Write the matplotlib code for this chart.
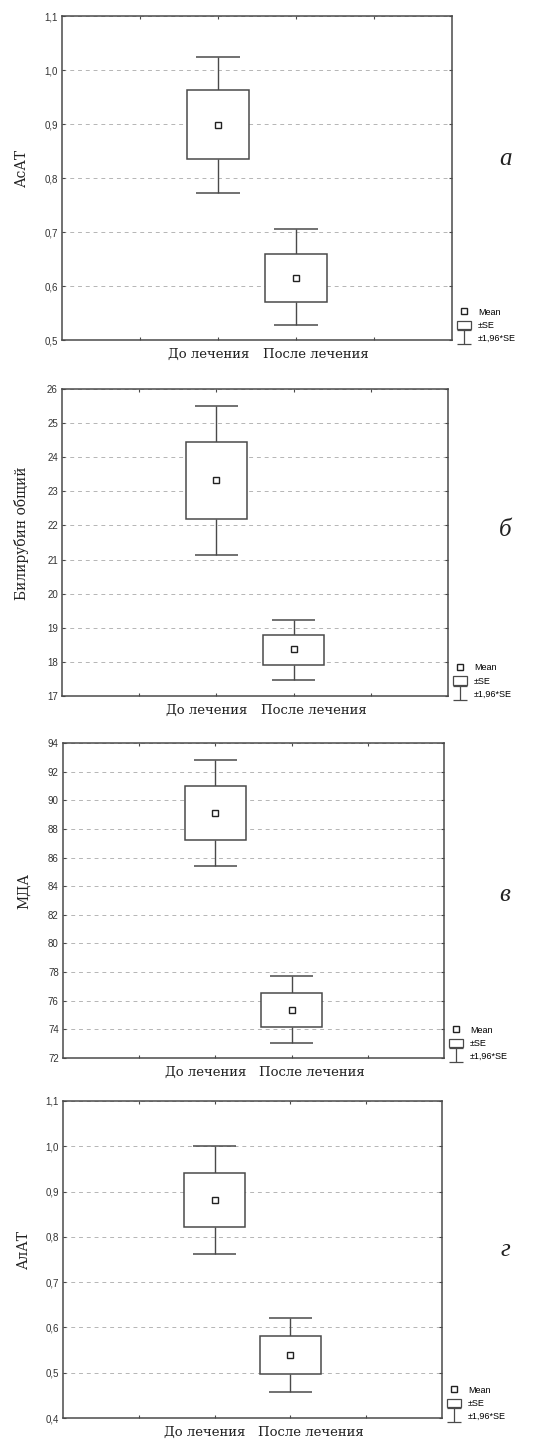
import numpy as np
import matplotlib.pyplot as plt
from matplotlib.path import Path
from matplotlib.lines import Line2D
from matplotlib.patches import Rectangle
from matplotlib.ticker import FuncFormatter

W, H = 554, 1449

groups = ["До лечения", "После лечения"]
group_pos = [2, 3]

# per panel: mean, SE box (low, high), 1.96*SE whiskers (low, high)
panel_names = ["АсАТ", "Билирубин общий", "МДА", "АлАТ"]
panel_letters = ["а", "б", "в", "г"]

means = [[0.899, 0.615], [23.34, 18.37], [89.13, 75.38], [0.881, 0.539]]
se_low = [[0.835, 0.570], [22.20, 17.92], [87.24, 74.19], [0.821, 0.498]]
se_high = [[0.963, 0.660], [24.46, 18.80], [91.02, 76.55], [0.942, 0.582]]
ci_low = [[0.773, 0.528], [21.13, 17.46], [85.42, 73.05], [0.763, 0.457]]
ci_high = [[1.025, 0.705], [25.51, 19.23], [92.82, 77.72], [1.000, 0.621]]

y_limits = [(0.5, 1.1), (17, 26), (72, 94), (0.4, 1.1)]
y_steps = [0.1, 1, 2, 0.1]
decimals = [1, 0, 0, 1]

# axes boxes in pixels: left, right, top, bottom
boxes = [(62, 452, 16, 340), (62, 448, 389, 696),
         (63, 444, 743, 1058), (63, 442, 1101, 1418)]
letter_y = [159, 530, 895, 1250]

line_col = "#4a4a4a"
serif = ["DejaVu Serif"]
sans = ["Liberation Sans"]

fig = plt.figure(figsize=(W / 100, H / 100), dpi=100)

whisker_path = Path(
    [(-0.5, 0.5), (0.5, 0.5), (0, 0.5), (0, -0.5), (-0.5, -0.5), (0.5, -0.5)],
    [Path.MOVETO, Path.LINETO, Path.MOVETO, Path.LINETO, Path.MOVETO, Path.LINETO],
)

for i in range(4):
    l, r, t, b = boxes[i]
    ax = fig.add_axes([l / W, 1 - b / H, (r - l) / W, (b - t) / H])
    ax.set_xlim(0, 5)
    ax.set_ylim(*y_limits[i])

    box_w = 0.8
    cap_w = 0.56
    for j, x in enumerate(group_pos):
        ax.vlines(x, ci_low[i][j], se_low[i][j], color=line_col, lw=1)
        ax.vlines(x, se_high[i][j], ci_high[i][j], color=line_col, lw=1)
        ax.hlines([ci_low[i][j], ci_high[i][j]], x - cap_w / 2, x + cap_w / 2,
                  color=line_col, lw=1.1)
        ax.add_patch(Rectangle((x - box_w / 2, se_low[i][j]), box_w,
                               se_high[i][j] - se_low[i][j],
                               facecolor="white", edgecolor=line_col, lw=1.1, zorder=3))
    ax.plot(group_pos, means[i], ls="none", marker="s", ms=3.8, mfc="white",
            mec="#222222", mew=1, zorder=4)

    lo, hi = y_limits[i]
    yt = np.arange(lo, hi + y_steps[i] / 2, y_steps[i])
    ax.set_yticks(yt)
    d = decimals[i]
    ax.yaxis.set_major_formatter(FuncFormatter(lambda v, p, d=d: f"{v:.{d}f}".replace(".", ",")))
    ax.set_xticks([1, 2, 3, 4])
    ax.set_xticklabels([])
    ax.tick_params(axis="both", direction="in", length=2, width=0.8, color=line_col,
                   top=True, right=True, labelsize=7, labelcolor="#333333", pad=3)
    for lab in ax.get_yticklabels():
        lab.set_family(sans)
    ax.grid(axis="y", ls=(0, (4, 4)), color="#b5b5b5", lw=0.7)
    ax.set_axisbelow(True)
    for s in ax.spines.values():
        s.set_color(line_col)
        s.set_linewidth(1.1)

    ax.set_ylabel(panel_names[i], family=serif, fontsize=10, color="#222222")
    ax.yaxis.set_label_coords(-0.085, 0.53)

    ax.text(0.48, -0.025, groups[0], transform=ax.transAxes, ha="right", va="top",
            family=serif, fontsize=9.5, color="#222222")
    ax.text(0.515, -0.025, groups[1], transform=ax.transAxes, ha="left", va="top",
            family=serif, fontsize=9.5, color="#222222")

    fig.text(505 / W, 1 - letter_y[i] / H, panel_letters[i], family=["Liberation Serif"],
             style="italic", fontsize=18, ha="center", va="center", color="#222222")

    handles = [
        Line2D([], [], ls="none", marker="s", ms=3.8, mfc="white", mec="#222222", mew=1),
        Rectangle((0, 0), 1, 1, facecolor="white", edgecolor=line_col, lw=0.9),
        Line2D([], [], ls="none", marker=whisker_path, ms=10, mec=line_col, mew=0.9),
    ]
    ax.legend(handles, ["Mean", "±SE", "±1,96*SE"], loc="lower left",
              bbox_to_anchor=(1.008, -0.015), frameon=False, prop={"family": sans, "size": 6.5},
              handlelength=1.6, handleheight=1.0, handletextpad=0.75, labelspacing=0.45,
              borderaxespad=0.0, borderpad=0.2)

fig.savefig("out.png", dpi=100, facecolor="white")
